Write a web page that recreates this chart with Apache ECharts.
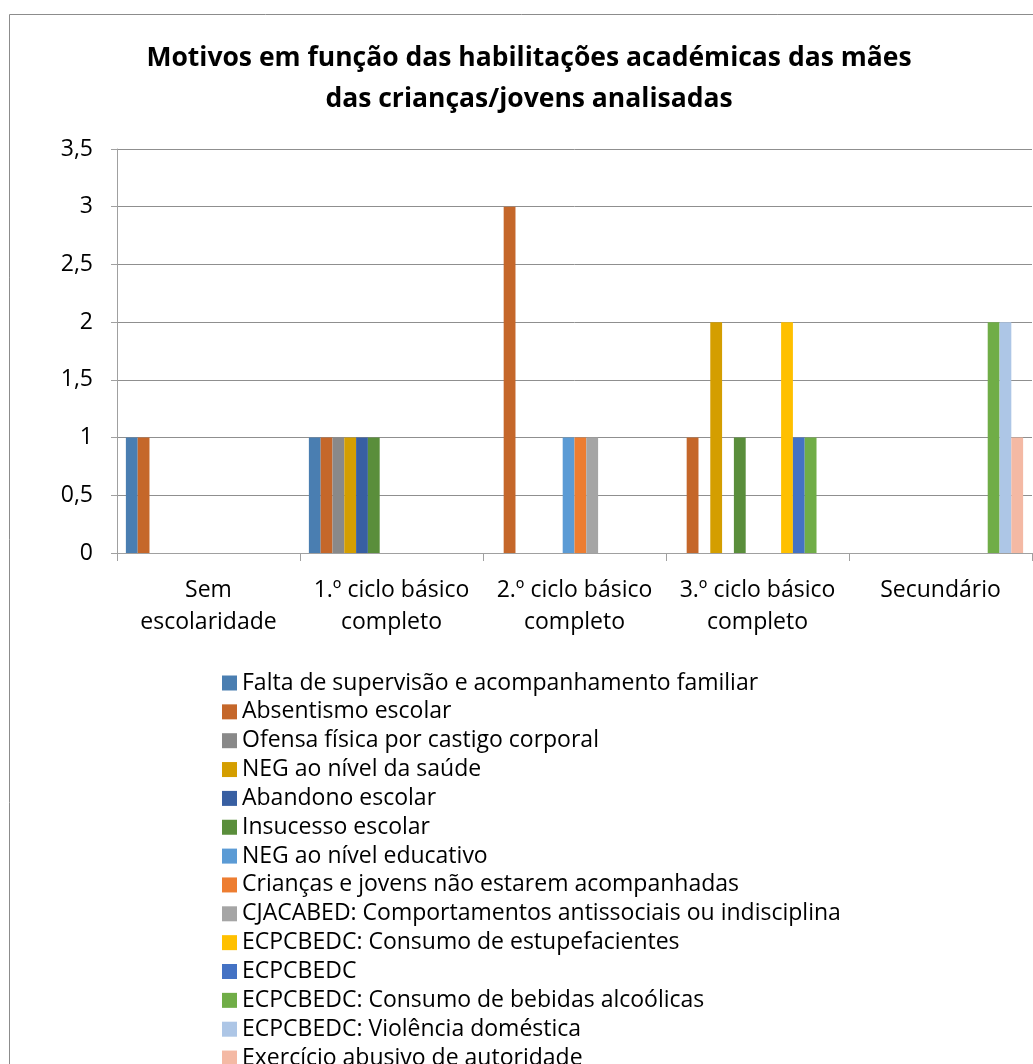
<!DOCTYPE html>
<html>
<head>
<meta charset="utf-8">
<script src="https://cdn.jsdelivr.net/npm/echarts@6/dist/echarts.min.js"></script>
<style>
  html, body { margin: 0; padding: 0; background: #fff; }
  #main { width: 1033px; height: 1064px; }
</style>
</head>
<body>
<div id="main"></div>
<script>
// categorias (habilitações académicas das mães)
var categorias = ['Sem\nescolaridade', '1.º ciclo básico\ncompleto', '2.º ciclo básico\ncompleto', '3.º ciclo básico\ncompleto', 'Secundário'];

var motivos = [
  'Falta de supervisão e acompanhamento familiar',
  'Absentismo escolar',
  'Ofensa física por castigo corporal',
  'NEG ao nível da saúde',
  'Abandono escolar',
  'Insucesso escolar',
  'NEG ao nível educativo',
  'Crianças e jovens não estarem acompanhadas',
  'CJACABED: Comportamentos antissociais ou indisciplina',
  'ECPCBEDC: Consumo de estupefacientes',
  'ECPCBEDC',
  'ECPCBEDC: Consumo de bebidas alcoólicas',
  'ECPCBEDC: Violência doméstica',
  'Exercício abusivo de autoridade'
];

var cores = ['#4a7eb1', '#c5672a', '#898989', '#d49e00', '#385fa2', '#5a8e3b', '#5b9bd5', '#ed7d31',
             '#a5a5a5', '#ffc000', '#4472c4', '#70ad47', '#adc6e6', '#f4b9a4'];

// valores por motivo, um por categoria
var faltaSupervisao   = [1, 1, 0, 0, 0];
var absentismo        = [1, 1, 3, 1, 0];
var ofensaFisica      = [0, 1, 0, 0, 0];
var negSaude          = [0, 1, 0, 2, 0];
var abandono          = [0, 1, 0, 0, 0];
var insucesso         = [0, 1, 0, 1, 0];
var negEducativo      = [0, 0, 1, 0, 0];
var naoAcompanhadas   = [0, 0, 1, 0, 0];
var cjacabed          = [0, 0, 1, 0, 0];
var estupefacientes   = [0, 0, 0, 2, 0];
var ecpcbedc          = [0, 0, 0, 1, 0];
var bebidas           = [0, 0, 0, 1, 2];
var violencia         = [0, 0, 0, 0, 2];
var abusoAutoridade   = [0, 0, 0, 0, 1];

var valores = [faltaSupervisao, absentismo, ofensaFisica, negSaude, abandono, insucesso, negEducativo,
               naoAcompanhadas, cjacabed, estupefacientes, ecpcbedc, bebidas, violencia, abusoAutoridade];

var fonte = '"Open Sans"';

var series = motivos.map(function (nome, i) {
  return {
    name: nome,
    type: 'bar',
    data: valores[i],
    barGap: '0%',
    barCategoryGap: '9.7%',
    itemStyle: { color: cores[i] }
  };
});

var chart = echarts.init(document.getElementById('main'));

chart.setOption({
  animation: false,
  color: cores,
  textStyle: { fontFamily: fonte },
  title: {
    text: 'Motivos em função das habilitações académicas das mães\ndas crianças/jovens analisadas',
    left: 524,
    top: 33,
    textAlign: 'center',
    textStyle: { fontFamily: fonte, fontSize: 26.5, fontWeight: 'bold', color: '#000', lineHeight: 41 }
  },
  graphic: [{
    type: 'rect',
    shape: { x: 9.5, y: 14.5, width: 1100, height: 1200 },
    style: { fill: 'none', stroke: '#8c8c8c', lineWidth: 1 },
    silent: true
  }],
  legend: {
    orient: 'vertical',
    left: 222,
    top: 671.5,
    height: 1000,
    padding: 0,
    itemWidth: 15,
    itemHeight: 15,
    itemGap: 5.85,
    icon: 'rect',
    data: motivos,
    textStyle: { fontFamily: fonte, fontSize: 23, color: '#000' }
  },
  grid: { left: 117, top: 149, right: 1, bottom: 511, containLabel: false },
  xAxis: {
    type: 'category',
    data: categorias,
    axisLine: { lineStyle: { color: '#a0a0a0', width: 1 } },
    axisTick: { show: true, length: 8, lineStyle: { color: '#a0a0a0' } },
    axisLabel: { fontFamily: fonte, fontSize: 23, color: '#000', lineHeight: 32, margin: 21, interval: 0 }
  },
  yAxis: {
    type: 'value',
    min: 0,
    max: 3.5,
    interval: 0.5,
    axisLine: { show: true, lineStyle: { color: '#a0a0a0', width: 1 } },
    axisTick: { show: true, length: 6, lineStyle: { color: '#a0a0a0' } },
    splitLine: { lineStyle: { color: '#8f8f8f', width: 1 } },
    axisLabel: {
      fontFamily: fonte, fontSize: 23, color: '#000', margin: 24,
      formatter: function (v) { return String(v).replace('.', ','); }
    }
  },
  series: series
});
</script>
</body>
</html>
